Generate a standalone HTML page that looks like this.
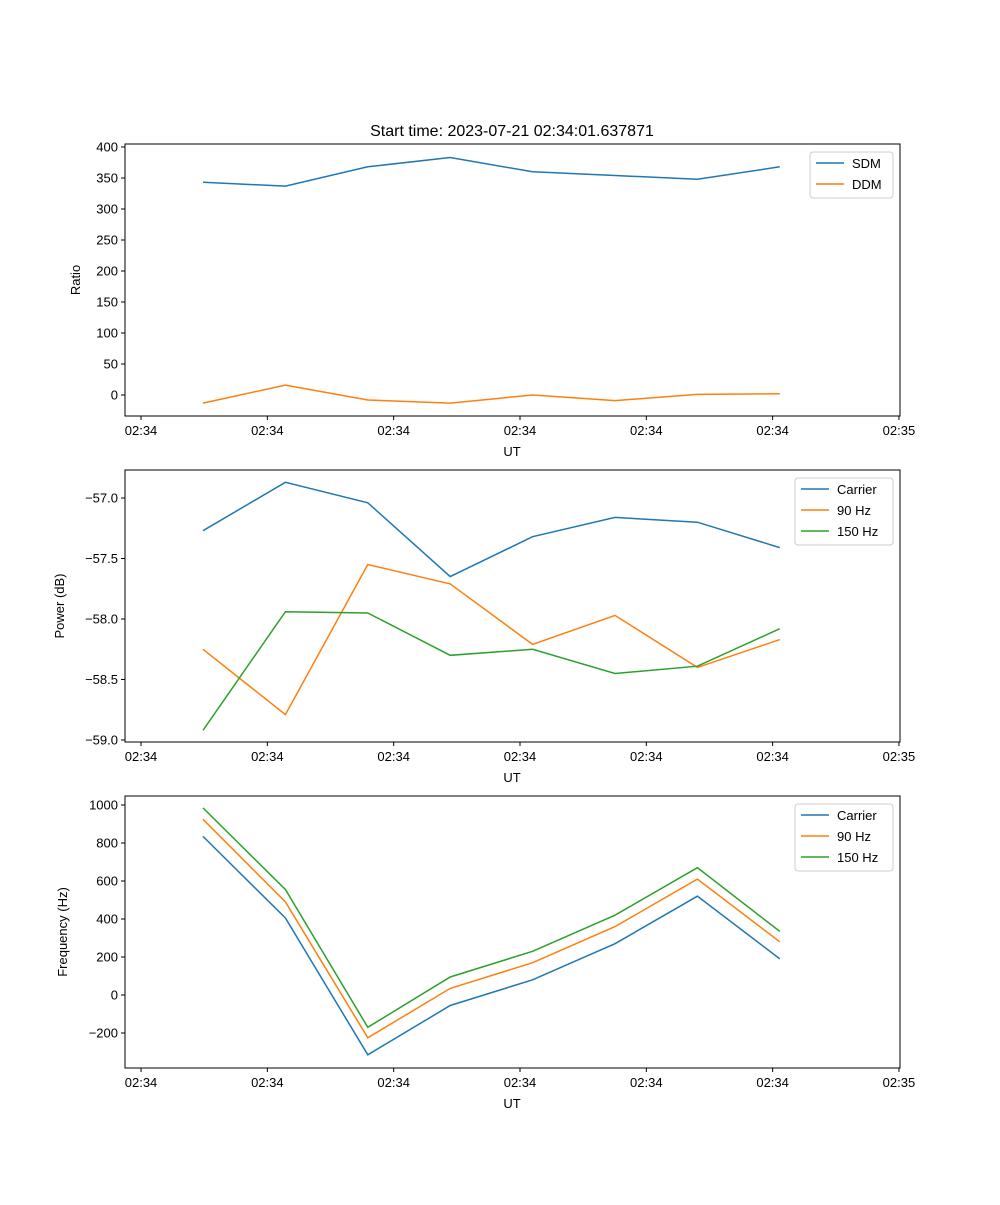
<!DOCTYPE html>
<html><head><meta charset="utf-8"><style>
body{margin:0;background:#fff}
svg{font-family:"Liberation Sans","DejaVu Sans",sans-serif}
</style></head><body>
<svg id="fig" width="1000" height="1200" xmlns="http://www.w3.org/2000/svg">
<rect width="1000" height="1200" fill="#fff"/>
<text x="512" y="136" font-size="16" text-anchor="middle">Start time: 2023-07-21 02:34:01.637871</text>
</svg>
<script>
const times=[0,1,2,3,4,5,6,7];
const xTickLabels=["02:34","02:34","02:34","02:34","02:34","02:34","02:35"];
const sdm=[343,337,368,383,360,354,348,368];
const ddm=[-13,16,-8,-13,0,-9,1,2];
const powCarrier=[-57.27,-56.87,-57.04,-57.65,-57.32,-57.16,-57.20,-57.41];
const pow90=[-58.25,-58.79,-57.55,-57.71,-58.21,-57.97,-58.40,-58.17];
const pow150=[-58.92,-57.94,-57.95,-58.30,-58.25,-58.45,-58.39,-58.08];
const freqCarrier=[835,405,-315,-55,80,270,520,190];
const freq90=[925,490,-225,35,170,360,610,280];
const freq150=[985,555,-170,95,230,420,670,335];
const ratioTicks=[0,50,100,150,200,250,300,350,400];
const powTicks=[-59.0,-58.5,-58.0,-57.5,-57.0];
const freqTicks=[-200,0,200,400,600,800,1000];

const NS="http://www.w3.org/2000/svg";
const svg=document.getElementById('fig');
function el(t,a,p){const e=document.createElementNS(NS,t);for(const k in a)e.setAttribute(k,a[k]);(p||svg).appendChild(e);return e;}
const L=125,R=900;
function xs(t){return 203+t*82.4;}
const xTickT=[-0.752,0.781,2.314,3.847,5.38,6.913,8.446];

function panel(name,top,bot,ymap,ticks,fmt,ylabel,series,legend){
  const g=el('g',{});
  
  
  series.forEach(s=>{
    const pts=s.vals.map((v,i)=>xs(times[i]).toFixed(1)+','+ymap(v).toFixed(1)).join(' ');
    const pl=el('polyline',{points:pts,fill:'none',stroke:s.color,'stroke-width':1.5},g);
    
    
  });
  el('rect',{x:L,y:top,width:R-L,height:bot-top,fill:'none',stroke:'#000','stroke-width':1},g);
  ticks.forEach(v=>{
    const y=ymap(v);
    el('line',{x1:L-4,x2:L,y1:y,y2:y,stroke:'#000'},g);
    const t=el('text',{x:L-7,y:y+4.5,'font-size':13,'text-anchor':'end'},g);
    t.textContent=fmt(v);
    
    
  });
  xTickT.forEach((tt,i)=>{
    const x=xs(tt);
    el('line',{x1:x,x2:x,y1:bot,y2:bot+4,stroke:'#000'},g);
    const t=el('text',{x:x,y:bot+19,'font-size':13,'text-anchor':'middle'},g);
    t.textContent=xTickLabels[i];
    
    
  });
  const xl=el('text',{x:512,y:bot+40,'font-size':13,'text-anchor':'middle'},g);
  xl.textContent='UT';
  
  
  const cy=(top+bot)/2;
  const yl=el('text',{x:0,y:0,'font-size':13,'text-anchor':'middle',transform:`translate(${legend.yx},${cy}) rotate(-90)`},g);
  yl.textContent=ylabel;
  
  
  const lg=el('g',{},g);
  
  
  el('rect',{x:legend.x,y:top+8,width:legend.w,height:series.length*21+4,rx:3,fill:'#fff',stroke:'#ccc'},lg);
  series.forEach((s,i)=>{
    const y=top+19+i*21;
    el('line',{x1:legend.x+6,x2:legend.x+34,y1:y,y2:y,stroke:s.color,'stroke-width':1.5},lg);
    const t=el('text',{x:legend.x+42,y:y+5,'font-size':13},lg);
    t.textContent=s.label;
    
    
  });
}
const C1='#1f77b4',C2='#ff7f0e',C3='#2ca02c';
panel('ratio-panel',144,416,v=>395-v*0.62,ratioTicks,v=>String(v),'Ratio',
 [{key:'sdm',label:'SDM',vals:sdm,color:C1},{key:'ddm',label:'DDM',vals:ddm,color:C2}],{x:810,w:83,yx:80});
panel('power-panel',470,742,v=>498+(-57-v)*121,powTicks,v=>'\u2212'+Math.abs(v).toFixed(1),'Power (dB)',
 [{key:'carrier-power',label:'Carrier',vals:powCarrier,color:C1},{key:'90hz-power',label:'90 Hz',vals:pow90,color:C2},{key:'150hz-power',label:'150 Hz',vals:pow150,color:C3}],{x:795,w:98,yx:64});
panel('frequency-panel',796,1068,v=>995-v*0.19,freqTicks,v=>v<0?'\u2212'+Math.abs(v):String(v),'Frequency (Hz)',
 [{key:'carrier-freq',label:'Carrier',vals:freqCarrier,color:C1},{key:'90hz-freq',label:'90 Hz',vals:freq90,color:C2},{key:'150hz-freq',label:'150 Hz',vals:freq150,color:C3}],{x:795,w:98,yx:67});
</script>
</body></html>
